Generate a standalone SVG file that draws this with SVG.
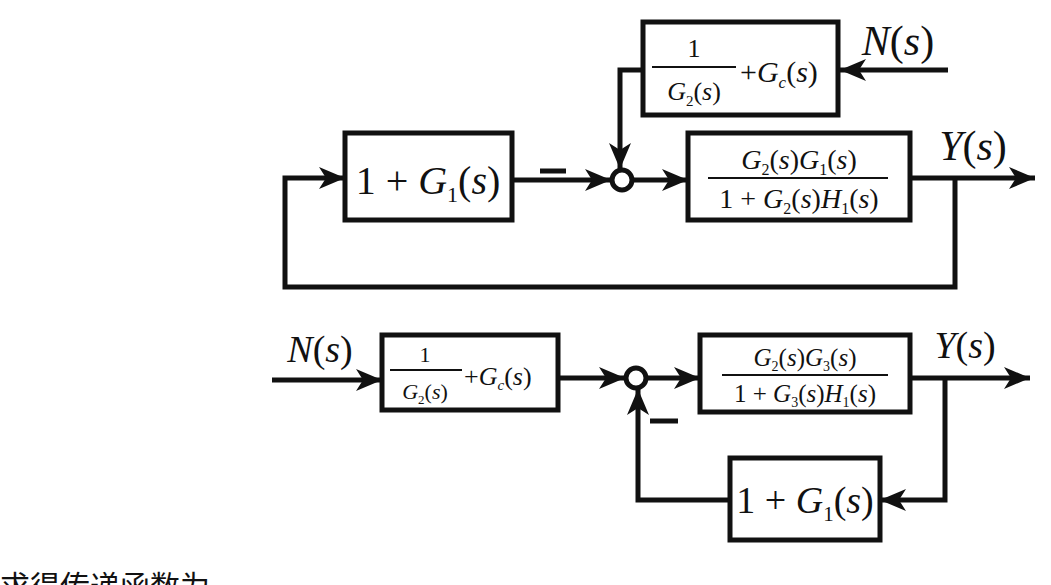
<svg xmlns="http://www.w3.org/2000/svg" width="1051" height="585" viewBox="0 0 1051 585">
<style>
.b{fill:none;stroke:#111;stroke-width:5}
.l{fill:none;stroke:#111;stroke-width:5}
.t{font-family:"Liberation Serif",serif;font-style:italic;fill:#111}
.n{font-family:"Liberation Serif",serif;fill:#111}
</style>
<defs><marker id="a" markerWidth="8" markerHeight="8" refX="7" refY="4" orient="auto" markerUnits="userSpaceOnUse" viewBox="0 0 8 8"><path d="M0,0 L8,4 L0,8 L2,4 Z" fill="#111"/></marker>
<marker id="A" markerWidth="26" markerHeight="22" refX="26" refY="11" orient="auto" markerUnits="userSpaceOnUse"><path d="M0,0 L26,11 L0,22 L7,11 Z" fill="#111"/></marker></defs>
<rect width="1051" height="585" fill="#fff"/>
<g id="connectors">
<path class="l" d="M512,180 H611" marker-end="url(#A)"/>
<path class="l" d="M633,180 H688" marker-end="url(#A)"/>
<path class="l" d="M643,70 H620 V169" marker-end="url(#A)"/>
<path class="l" d="M948,70 H840" marker-end="url(#A)"/>
<path class="l" d="M910,178 H1035" marker-end="url(#A)"/>
<path class="l" d="M955,178 V287 H285 V178 H345" marker-end="url(#A)"/>
<path class="l" d="M272,380 H382" marker-end="url(#A)"/>
<path class="l" d="M558,378 H625" marker-end="url(#A)"/>
<path class="l" d="M647,378 H700" marker-end="url(#A)"/>
<path class="l" d="M910,378 H1030" marker-end="url(#A)"/>
<path class="l" d="M945,378 V500 H880" marker-end="url(#A)"/>
<path class="l" d="M730,500 H638 V389" marker-end="url(#A)"/>
<path class="l" d="M540,171 H566"/>
<path class="l" d="M650,421 H678"/>
</g>
<g id="sum1"><circle cx="622" cy="180" r="10" fill="#fff" stroke="#111" stroke-width="5"/></g>
<g id="sum2"><circle cx="636" cy="378" r="10" fill="#fff" stroke="#111" stroke-width="5"/></g>
<g id="g1top"><rect class="b" x="345" y="133" width="167" height="87"/>
<text class="n" x="428" y="194" font-size="40" text-anchor="middle">1 + <tspan class="t">G</tspan><tspan font-size="22" dy="8">1</tspan><tspan dy="-8">(</tspan><tspan class="t">s</tspan>)</text></g>
<g id="gcTop"><rect class="b" x="643" y="22" width="195" height="93"/>
<text class="n" x="694" y="57" font-size="26" text-anchor="middle">1</text>
<line x1="652" y1="67" x2="736" y2="67" stroke="#111" stroke-width="2"/>
<text class="n" x="694" y="100" font-size="26" text-anchor="middle"><tspan class="t">G</tspan><tspan font-size="15" dy="6">2</tspan><tspan dy="-6">(</tspan><tspan class="t">s</tspan>)</text>
<text class="n" x="740" y="82" font-size="30">+<tspan class="t">G</tspan><tspan class="t" font-size="17" dy="6">c</tspan><tspan dy="-6">(</tspan><tspan class="t">s</tspan>)</text></g>
<g id="plantTop"><rect class="b" x="688" y="133" width="222" height="87"/>
<text class="n" x="799" y="169" font-size="28" text-anchor="middle"><tspan class="t">G</tspan><tspan font-size="16" dy="6">2</tspan><tspan dy="-6">(</tspan><tspan class="t">s</tspan>)<tspan class="t">G</tspan><tspan font-size="16" dy="6">1</tspan><tspan dy="-6">(</tspan><tspan class="t">s</tspan>)</text>
<line x1="708" y1="178" x2="888" y2="178" stroke="#111" stroke-width="2"/>
<text class="n" x="799" y="208" font-size="28" text-anchor="middle">1 + <tspan class="t">G</tspan><tspan font-size="16" dy="6">2</tspan><tspan dy="-6">(</tspan><tspan class="t">s</tspan>)<tspan class="t">H</tspan><tspan font-size="16" dy="6">1</tspan><tspan dy="-6">(</tspan><tspan class="t">s</tspan>)</text></g>
<text class="n" x="898" y="55" font-size="42" text-anchor="middle"><tspan class="t">N</tspan>(<tspan class="t">s</tspan>)</text>
<text class="n" x="973" y="160" font-size="42" text-anchor="middle"><tspan class="t">Y</tspan>(<tspan class="t">s</tspan>)</text>
<g id="gcBot"><rect class="b" x="382" y="335" width="176" height="75"/>
<text class="n" x="425" y="362" font-size="22" text-anchor="middle">1</text>
<line x1="390" y1="370" x2="462" y2="370" stroke="#111" stroke-width="2"/>
<text class="n" x="425" y="399" font-size="22" text-anchor="middle"><tspan class="t">G</tspan><tspan font-size="13" dy="5">2</tspan><tspan dy="-5">(</tspan><tspan class="t">s</tspan>)</text>
<text class="n" x="464" y="385" font-size="26">+<tspan class="t">G</tspan><tspan class="t" font-size="15" dy="5">c</tspan><tspan dy="-5">(</tspan><tspan class="t">s</tspan>)</text></g>
<g id="plantBot"><rect class="b" x="700" y="335" width="210" height="77"/>
<text class="n" x="805" y="366" font-size="25" text-anchor="middle"><tspan class="t">G</tspan><tspan font-size="14" dy="5">2</tspan><tspan dy="-5">(</tspan><tspan class="t">s</tspan>)<tspan class="t">G</tspan><tspan font-size="14" dy="5">3</tspan><tspan dy="-5">(</tspan><tspan class="t">s</tspan>)</text>
<line x1="722" y1="375" x2="888" y2="375" stroke="#111" stroke-width="2"/>
<text class="n" x="805" y="402" font-size="25" text-anchor="middle">1 + <tspan class="t">G</tspan><tspan font-size="14" dy="5">3</tspan><tspan dy="-5">(</tspan><tspan class="t">s</tspan>)<tspan class="t">H</tspan><tspan font-size="14" dy="5">1</tspan><tspan dy="-5">(</tspan><tspan class="t">s</tspan>)</text></g>
<g id="g1bot"><rect class="b" x="730" y="458" width="150" height="82"/>
<text class="n" x="805" y="513" font-size="38" text-anchor="middle">1 + <tspan class="t">G</tspan><tspan font-size="21" dy="8">1</tspan><tspan dy="-8">(</tspan><tspan class="t">s</tspan>)</text></g>
<text class="n" x="320" y="362" font-size="38" text-anchor="middle"><tspan class="t">N</tspan>(<tspan class="t">s</tspan>)</text>
<text class="n" x="965" y="358" font-size="38" text-anchor="middle"><tspan class="t">Y</tspan>(<tspan class="t">s</tspan>)</text>
<text x="0" y="597" font-size="30" font-family="'Noto Sans CJK SC',sans-serif" fill="#111">求得传递函数为</text>
</svg>
